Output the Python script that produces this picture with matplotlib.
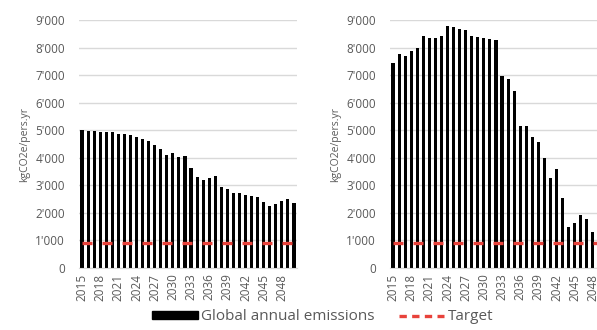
import numpy as np
import matplotlib
matplotlib.use("Agg")
import matplotlib.pyplot as plt
from matplotlib.patches import Patch
from matplotlib.lines import Line2D

plt.rcParams['font.family'] = ['Open Sans', 'DejaVu Sans']

years = list(range(2015, 2051))
tick_years = list(range(2015, 2051, 3))

# left chart: global annual emissions per person
left_emissions = [5010, 4970, 4970, 4950, 4925, 4925, 4875, 4860, 4840, 4755,
                  4695, 4620, 4476, 4320, 4100, 4160, 4015, 4065, 3620, 3315,
                  3195, 3280, 3350, 2950, 2870, 2735, 2710, 2640, 2625, 2565,
                  2395, 2260, 2320, 2420, 2490, 2370]
# right chart (last two years are cut off in the reference)
right_emissions = [7430, 7755, 7695, 7890, 7975, 8420, 8360, 8335, 8430, 8795,
                   8735, 8690, 8650, 8420, 8385, 8335, 8300, 8275, 6970, 6870,
                   6420, 5160, 5160, 4750, 4555, 3975, 3255, 3580, 2530, 1500,
                   1620, 1925, 1770, 1320, 1100, 950]
target = [900] * len(years)

ylabel = "kgCO2e/pers.yr"
grey = "#595959"
grid_c = "#d9d9d9"
red = "#e8423b"

W, H = 597, 330
fig = plt.figure(figsize=(W / 100, H / 100), dpi=100)

def px_axes(x0, x1, ytop, ybot):
    return fig.add_axes([x0 / W, (H - ybot) / H, (x1 - x0) / W, (ybot - ytop) / H])

def draw(ax, values):
    x = np.arange(len(years))
    ax.bar(x, values, width=0.52, color="black", zorder=2)
    ax.plot(x, target, color=red, lw=2.4, dashes=(3.0, 3.0), zorder=3)
    ax.set_xlim(-0.5, len(years) - 0.5)
    ax.set_ylim(0, 9000)
    ax.set_yticks(np.arange(0, 9001, 1000))
    ax.set_yticklabels(["0"] + ["%d'000" % (v // 1000) for v in range(1000, 9001, 1000)])
    ax.set_xticks([years.index(y) for y in tick_years])
    ax.set_xticklabels([str(y) for y in tick_years], rotation=90)
    ax.grid(axis="y", color=grid_c, lw=1.0, zorder=0)
    for s in ["top", "right", "left"]:
        ax.spines[s].set_visible(False)
    ax.spines["bottom"].set_color(grid_c)
    ax.tick_params(length=0, colors=grey, labelsize=8.5)
    ax.tick_params(axis="y", pad=10)
    ax.tick_params(axis="x", pad=4)
    ax.set_ylabel(ylabel, color=grey, fontsize=7.5, labelpad=4)

ax1 = px_axes(79, 297, 20, 268)
draw(ax1, left_emissions)
ax2 = px_axes(390, 608, 20, 268)
draw(ax2, right_emissions)

handles = [Patch(facecolor="black", edgecolor="black"),
           Line2D([0], [0], color=red, lw=2.4, dashes=(2.2, 1.6))]
fig.legend(handles, ["Global annual emissions", "Target"], loc="lower center",
           bbox_to_anchor=(0.54, -0.025), ncol=2, frameon=False, fontsize=11,
           handlelength=3.0, handleheight=0.45, columnspacing=1.6,
           handletextpad=0.2, labelcolor=grey)

fig.savefig("out.png", dpi=100)
